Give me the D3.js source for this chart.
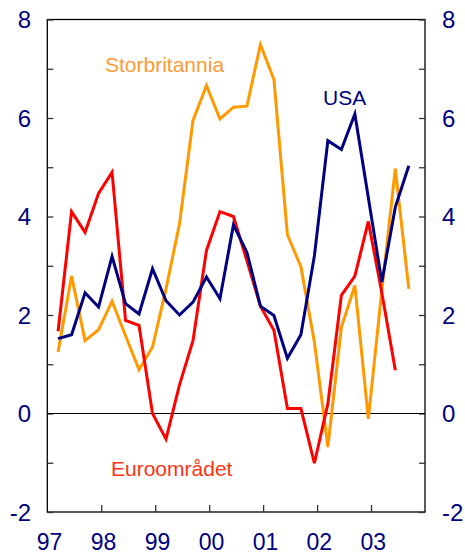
<!DOCTYPE html>
<html>
<head>
<meta charset="utf-8">
<script src="https://cdn.jsdelivr.net/npm/d3@7"></script>
<style>
  body { margin: 0; background: #fff; }
  svg text { font-family: "Liberation Sans", Arial, sans-serif; }
</style>
</head>
<body>
<div class="chart"></div>
<script>
// Quarterly data, 1997 Q1 - 2003 Q3
const quarters = [
    '97Q1','97Q2','97Q3','97Q4','98Q1','98Q2','98Q3','98Q4',
    '99Q1','99Q2','99Q3','99Q4','00Q1','00Q2','00Q3','00Q4',
    '01Q1','01Q2','01Q3','01Q4','02Q1','02Q2','02Q3','02Q4',
    '03Q1','03Q2','03Q3'
];
const usa = [1.52, 1.60, 2.45, 2.16, 3.19, 2.23, 2.02, 2.94, 2.29, 2.00, 2.26, 2.77, 2.33, 3.83,
             3.27, 2.18, 1.99, 1.12, 1.60, 3.20, 5.54, 5.36, 6.08, 4.38, 2.67, 4.19, 5.03];
const euro = [1.67, 4.10, 3.68, 4.47, 4.90, 1.89, 1.79, 0.00, -0.52, 0.58, 1.48, 3.31, 4.10, 4.00,
              3.10, 2.18, 1.69, 0.10, 0.10, -1.01, 0.20, 2.40, 2.79, 3.90, 2.45, 0.88];
const uk = [1.25, 2.79, 1.48, 1.70, 2.28, 1.58, 0.89, 1.35, 2.53, 3.85, 5.95, 6.66, 5.98, 6.22,
            6.24, 7.49, 6.78, 3.63, 2.98, 1.45, -0.68, 1.75, 2.60, -0.11, 2.50, 4.97, 2.53];
const years = [1997, 1998, 1999, 2000, 2001, 2002, 2003];
const yTicks = [-2, -1, 0, 1, 2, 3, 4, 5, 6, 7, 8];
const yLabels = [-2, 0, 2, 4, 6, 8];

const W = 465, H = 556;
const plot = {left: 47.3, right: 425, top: 19.5, bottom: 512};
const navy = '#000080';

const svg = d3.select('.chart')
    .append('svg')
        .attr('width', W)
        .attr('height', H);

// Scales
const x = d3.scaleLinear().domain([1997, 2004]).range([plot.left, plot.right]);
const y = d3.scaleLinear().domain([-2, 8]).range([plot.bottom, plot.top]);

// quarter label -> decimal year (points sit a little inside each quarter)
const qTime = q => 1900 + (+q.slice(0, 2) < 50 ? 100 : 0) + +q.slice(0, 2) + (+q[3] - 1) / 4 + 0.2;

// Frame
svg.append('rect')
    .attr('x', plot.left)
    .attr('y', plot.top)
    .attr('width', plot.right - plot.left)
    .attr('height', plot.bottom - plot.top)
    .attr('fill', 'none')
    .attr('stroke', '#000')
    .attr('stroke-width', 1.3);

// Inside ticks, left and right
svg.append('g')
    .attr('transform', `translate(${plot.left},0)`)
    .call(d3.axisRight(y).tickValues(yTicks).tickSize(6).tickFormat(''))
    .call(g => g.select('.domain').remove())
    .call(g => g.selectAll('line').attr('stroke', '#333').attr('stroke-width', 1.3));
svg.append('g')
    .attr('transform', `translate(${plot.right},0)`)
    .call(d3.axisLeft(y).tickValues(yTicks).tickSize(6).tickFormat(''))
    .call(g => g.select('.domain').remove())
    .call(g => g.selectAll('line').attr('stroke', '#333').attr('stroke-width', 1.3));

// Bottom ticks (pointing up)
svg.append('g')
    .attr('transform', `translate(0,${plot.bottom})`)
    .call(d3.axisTop(x).tickValues(years.slice(1)).tickSize(7).tickFormat(''))
    .call(g => g.select('.domain').remove())
    .call(g => g.selectAll('line').attr('stroke', '#333').attr('stroke-width', 1.3));

// Y labels
svg.append('g').selectAll('text')
    .data(yLabels)
    .enter()
        .append('text')
        .attr('x', 31)
        .attr('y', d => y(d))
        .attr('dy', '0.36em')
        .attr('text-anchor', 'end')
        .style('font-size', '24px')
        .attr('fill', navy)
        .text(d => d);
svg.append('g').selectAll('text')
    .data(yLabels)
    .enter()
        .append('text')
        .attr('x', 442)
        .attr('y', d => y(d))
        .attr('dy', '0.36em')
        .style('font-size', '24px')
        .attr('fill', navy)
        .text(d => d);

// X labels
svg.append('g').selectAll('text')
    .data(years)
    .enter()
        .append('text')
        .attr('x', d => x(d) + 2.3)
        .attr('y', 550)
        .attr('text-anchor', 'middle')
        .style('font-size', '23px')
        .attr('fill', navy)
        .text(d => String(d).slice(2));

// Zero line
svg.append('line')
    .attr('x1', plot.left)
    .attr('x2', plot.right)
    .attr('y1', y(0))
    .attr('y2', y(0))
    .attr('stroke', '#000')
    .attr('stroke-width', 1.2);

// Series
const line = d3.line()
    .x(d => x(qTime(d.q)))
    .y(d => y(d.v));
const series = [
    {values: uk, color: '#ff9900'},
    {values: euro, color: '#ff0000'},
    {values: usa, color: navy}
];
series.forEach(s => {
    svg.append('path')
        .datum(s.values.map((v, i) => ({q: quarters[i], v: v})))
        .attr('d', line)
        .attr('fill', 'none')
        .attr('stroke', s.color)
        .attr('stroke-width', 3)
        .attr('stroke-linejoin', 'miter');
});

// Series labels
svg.append('text')
    .attr('x', 105)
    .attr('y', 72)
    .style('font-size', '21px')
    .attr('fill', '#ff9a33')
    .text('Storbritannia');
svg.append('text')
    .attr('x', 323)
    .attr('y', 105)
    .style('font-size', '21px')
    .attr('fill', navy)
    .text('USA');
svg.append('text')
    .attr('x', 111)
    .attr('y', 476)
    .style('font-size', '21px')
    .attr('fill', '#ff3311')
    .text('Euroområdet');
</script>
</body>
</html>
